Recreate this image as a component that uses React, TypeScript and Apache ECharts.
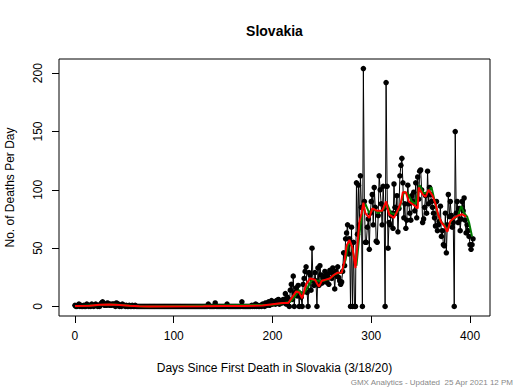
import React, { useEffect, useRef } from "react";
import * as echarts from "echarts";

const deaths: number[] = [
  // 0-69
  1, 0, 0, 1, 2, 0, 1, 0, 0, 1,
  0, 0, 2, 1, 0, 1, 0, 2, 1, 0,
  1, 2, 1, 0, 1, 0, 2, 3, 4, 2,
  1, 2, 1, 3, 2, 1, 2, 1, 2, 2,
  1, 0, 3, 1, 2, 0, 1, 0, 2, 1,
  1, 0, 1, 0, 0, 1, 0, 0, 1, 0,
  0, 1, 0, 0, 0, 0, 0, 0, 0, 0,
  // 70-129
  0, 0, 0, 0, 0, 0, 0, 0, 0, 0,
  0, 0, 0, 0, 0, 0, 0, 0, 0, 0,
  0, 0, 0, 0, 0, 0, 0, 0, 0, 0,
  0, 0, 0, 0, 0, 0, 0, 0, 0, 0,
  0, 0, 0, 0, 0, 0, 0, 0, 0, 0,
  0, 0, 0, 0, 0, 0, 0, 0, 0, 0,
  // 130-209
  0, 0, 0, 0, 0, 2, 0, 0, 0, 0,
  0, 0, 3, 0, 0, 0, 0, 0, 0, 0,
  0, 0, 0, 0, 2, 0, 0, 0, 0, 0,
  0, 0, 0, 0, 0, 0, 0, 0, 0, 4,
  0, 0, 0, 0, 0, 0, 0, 0, 0, 1,
  0, 1, 0, 2, 0, 1, 0, 0, 1, 0,
  2, 1, 0, 3, 1, 2, 4, 1, 3, 5,
  2, 4, 3, 2, 5, 3, 6, 2, 4, 5,
  // 210-289
  3, 6, 4, 11, 2, 8, 5, 0, 14, 19,
  6, 26, 0, 12, 16, 9, 18, 0, 11, 8,
  0, 19, 24, 30, 34, 12, 0, 29, 27, 14,
  50, 22, 18, 29, 22, 0, 33, 18, 35, 27,
  20, 24, 26, 30, 21, 28, 25, 19, 31, 29,
  24, 33, 28, 15, 30, 26, 34, 25, 22, 19,
  21, 30, 46, 35, 58, 63, 70, 45, 58, 0,
  68, 0, 55, 0, 0, 106, 62, 104, 70, 112,
  // 290-403
  85, 0, 204, 90, 55, 55, 68, 75, 49, 80,
  90, 96, 70, 102, 85, 56, 55, 78, 112, 100,
  88, 70, 103, 84, 0, 192, 103, 50, 72, 70,
  78, 80, 67, 105, 85, 80, 95, 64, 84, 112,
  121, 127, 106, 76, 88, 67, 74, 104, 88, 80,
  74, 95, 90, 98, 82, 106, 76, 111, 92, 116,
  117, 100, 72, 75, 85, 95, 80, 116, 88, 102,
  96, 90, 85, 80, 76, 69, 90, 65, 70, 73,
  86, 60, 65, 53, 52, 80, 46, 70, 96, 77,
  90, 78, 68, 72, 0, 150, 80, 90, 72, 84,
  65, 75, 90, 82, 93, 74, 63, 70, 65, 60,
  53, 49, 53, 58,
];

const redAvg: [number, number][] = [
  [0, 0.5], [15, 0.7], [25, 1.5], [35, 1.8], [45, 1.3], [55, 0.6], [65, 0.2], [75, 0],
  [130, 0.1], [150, 0.4], [170, 0.5], [190, 0.8], [200, 2], [210, 3], [216, 3], [220, 8],
  [224, 13], [227, 12], [230, 7], [234, 19], [238, 24], [243, 23], [247, 17], [250, 22],
  [254, 23], [258, 24], [262, 27], [266, 29], [270, 29], [273, 39], [275, 52], [278, 57],
  [281, 50], [284, 33], [286, 53], [288, 73], [290, 79], [292, 89], [294, 80], [298, 76],
  [301, 84], [306, 82], [311, 82], [315, 90], [318, 79], [323, 76], [327, 83], [330, 89],
  [332, 98], [335, 98], [338, 90], [343, 87], [347, 84], [348, 102], [352, 96], [355, 94],
  [358, 100], [362, 95], [365, 88], [368, 78], [371, 72], [374, 69], [377, 64], [380, 73],
  [384, 76], [388, 78], [392, 79], [396, 77],
];

const greenAvg: [number, number][] = [
  [0, 0.3], [20, 1], [30, 1.5], [40, 1.6], [50, 1], [60, 0.4], [70, 0], [200, 1.5],
  [212, 3], [218, 4], [223, 9], [227, 14], [231, 10], [236, 17], [240, 23], [246, 22],
  [252, 22], [258, 24], [264, 28], [270, 29], [274, 40], [277, 55], [280, 52], [283, 40],
  [285, 35], [288, 62], [291, 82], [294, 88], [298, 80], [302, 84], [307, 80], [312, 83],
  [316, 88], [320, 80], [325, 79], [329, 85], [333, 98], [337, 97], [341, 90], [345, 88],
  [349, 104], [353, 97], [357, 98], [361, 102], [364, 91], [367, 80], [370, 73], [374, 70],
  [377, 65], [381, 74], [385, 76], [388, 78], [391, 86], [394, 80], [397, 77], [399, 72],
  [402, 60],
];

const xTicks = [0, 100, 200, 300, 400];
const yTicks = [0, 50, 100, 150, 200];

const FONT = "'Liberation Sans', Arial, sans-serif";

export default function App() {
  const ref = useRef<HTMLDivElement>(null);
  useEffect(() => {
    if (!ref.current) return;
    const chart = echarts.init(ref.current, null, { renderer: "svg" });
    const points = deaths.map((v, i) => [i, v]);
    chart.setOption({
      animation: false,
      backgroundColor: "#ffffff",
      grid: {
        left: 59,
        top: 59,
        width: 431,
        height: 257,
        show: true,
        borderColor: "#000",
        borderWidth: 1,
        backgroundColor: "transparent",
      },
      xAxis: {
        type: "value",
        min: -16.16,
        max: 420.2,
        splitLine: { show: false },
        axisLine: { show: false, onZero: false },
        axisTick: {
          show: true,
          inside: false,
          length: 7,
          customValues: xTicks,
          lineStyle: { color: "#000", width: 1 },
        },
        axisLabel: {
          customValues: xTicks,
          margin: 14,
          color: "#000",
          fontSize: 12,
          fontFamily: FONT,
        },
      },
      yAxis: {
        type: "value",
        min: -8.16,
        max: 212.16,
        splitLine: { show: false },
        axisLine: { show: false, onZero: false },
        axisTick: {
          show: true,
          inside: false,
          length: 7,
          customValues: yTicks,
          lineStyle: { color: "#000", width: 1 },
        },
        axisLabel: {
          customValues: yTicks,
          rotate: 90,
          margin: 15,
          color: "#000",
          fontSize: 12,
          fontFamily: FONT,
        },
      },
      series: [
        {
          type: "line",
          data: points,
          symbol: "circle",
          symbolSize: 5.5,
          showAllSymbol: true,
          lineStyle: { color: "#000", width: 1 },
          itemStyle: { color: "#000" },
          silent: true,
          z: 2,
        },
        {
          type: "line",
          data: greenAvg,
          showSymbol: false,
          lineStyle: { color: "#007a00", width: 2 },
          silent: true,
          z: 3,
        },
        {
          type: "line",
          data: redAvg,
          showSymbol: false,
          lineStyle: { color: "#ff0000", width: 2 },
          silent: true,
          z: 4,
        },
      ],
      graphic: [
        {
          type: "text",
          x: 274.5,
          y: 31,
          style: {
            text: "Slovakia",
            font: `bold 14px ${FONT}`,
            fill: "#000",
            align: "center",
            verticalAlign: "middle",
          },
        },
        {
          type: "text",
          x: 274.5,
          y: 368,
          style: {
            text: "Days Since First Death in Slovakia (3/18/20)",
            font: `12px ${FONT}`,
            fill: "#000",
            align: "center",
            verticalAlign: "middle",
          },
        },
        {
          type: "text",
          x: 10,
          y: 187.5,
          rotation: Math.PI / 2,
          style: {
            text: "No. of Deaths Per Day",
            font: `12px ${FONT}`,
            fill: "#000",
            align: "center",
            verticalAlign: "middle",
          },
        },
        {
          type: "text",
          x: 513,
          y: 382,
          style: {
            text: "GMX Analytics - Updated  25 Apr 2021 12 PM",
            font: `8px ${FONT}`,
            fill: "#888888",
            align: "right",
            verticalAlign: "middle",
          },
        },
      ],
    });
    return () => chart.dispose();
  }, []);
  return (
    <div
      ref={ref}
      style={{ position: "absolute", left: 0, top: 0, width: 520, height: 390 }}
    />
  );
}
